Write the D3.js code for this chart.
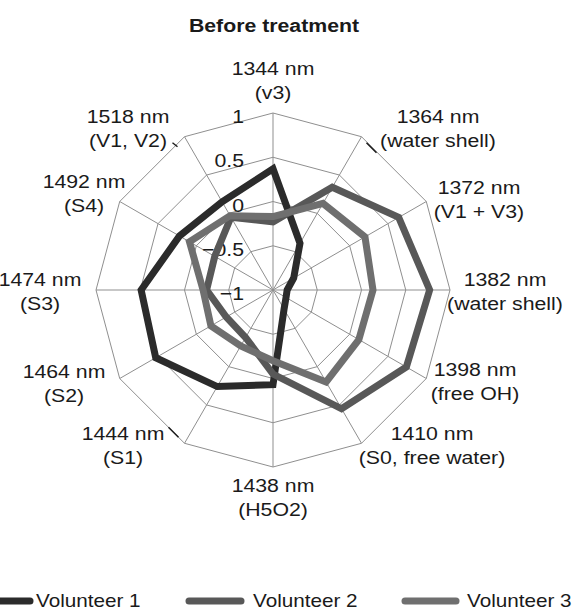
<!DOCTYPE html>
<html>
<head>
<meta charset="utf-8">
<script src="https://cdn.jsdelivr.net/npm/d3@7"></script>
<style>
  html, body { margin: 0; padding: 0; background: #ffffff; }
  svg { display: block; }
  text { font-family: "Liberation Sans", Arial, Helvetica, sans-serif; fill: #1a1a1a; }
</style>
</head>
<body>
<svg id="chart" width="572" height="613"></svg>
<script>
// Spoke labels (wavelength + band assignment), clockwise from the top
const axisNames = ["1344 nm", "1364 nm", "1372 nm", "1382 nm", "1398 nm", "1410 nm",
                   "1438 nm", "1444 nm", "1464 nm", "1474 nm", "1492 nm", "1518 nm"];
const axisNotes = ["(v3)", "(water shell)", "(V1 + V3)", "(water shell)", "(free OH)", "(S0, free water)",
                   "(H5O2)", "(S1)", "(S2)", "(S3)", "(S4)", "(V1, V2)"];

// Ring values and their tick labels
const ringValues = [-1, -0.5, 0, 0.5, 1];
const ringLabels = ["\u22121", "\u22120.5", "0", "0.5", "1"];

// Series
const seriesNames = ["Volunteer 1", "Volunteer 2", "Volunteer 3"];
const volunteer1 = [0.37, -0.39, -0.73, -0.84, -0.83, -0.75, 0.07, 0.26, 0.53, 0.49, 0.22, 0.15];
const volunteer2 = [-0.23, 0.34, 0.64, 0.77, 0.74, 0.55, -0.05, -0.38, -0.39, -0.25, -0.24, -0.05];
const volunteer3 = [-0.17, 0.13, 0.20, 0.13, 0.12, 0.20, -0.20, -0.27, -0.19, -0.21, 0.09, -0.03];

const seriesColors = ["#2b2b2b", "#585858", "#6f6f6f"];
const seriesData = [volunteer1, volunteer2, volunteer3];

const svg = d3.select("#chart");
const cx = 273, cy = 290, R = 177;
const FS = 18.5, SX = 1.15;

const r = d3.scaleLinear().domain([-1, 1]).range([0, R]);
const angle = d3.scaleLinear().domain([0, axisNames.length]).range([0, 2 * Math.PI]);

const plot = svg.append("g").attr("transform", `translate(${cx},${cy})`);

function put(g, x, y, str, anchor, size, weight) {
  return g.append("text")
    .attr("transform", `translate(${x},${y}) scale(${SX},1)`)
    .attr("text-anchor", anchor)
    .style("font-size", size + "px")
    .style("font-weight", weight || "normal")
    .text(str);
}

// Grid rings (polygons)
const ringLine = d3.lineRadial()
  .angle((d, i) => angle(i))
  .radius(d => r(d))
  .curve(d3.curveLinearClosed);

ringValues.filter(v => v > -1).forEach(v => {
  plot.append("path")
    .attr("d", ringLine(axisNames.map(() => v)))
    .attr("fill", "none")
    .attr("stroke", "#8f8f8f")
    .attr("stroke-width", 1);
});

// Spokes
axisNames.forEach((name, i) => {
  const a = angle(i);
  plot.append("line")
    .attr("x1", 0).attr("y1", 0)
    .attr("x2", r(1) * Math.sin(a)).attr("y2", -r(1) * Math.cos(a))
    .attr("stroke", "#8f8f8f")
    .attr("stroke-width", 1);
});

// Ring tick labels, right-aligned left of the vertical spoke
ringValues.forEach((v, i) => {
  put(plot, -29, -r(v) + 10, ringLabels[i], "end", FS);
});

// Series polygons
const seriesLine = d3.lineRadial()
  .angle((d, i) => angle(i))
  .radius(d => r(d))
  .curve(d3.curveLinearClosed);

seriesData.forEach((vals, s) => {
  plot.append("path")
    .attr("d", seriesLine(vals))
    .attr("fill", "none")
    .attr("stroke", seriesColors[s])
    .attr("stroke-width", 7)
    .attr("stroke-linejoin", "miter");
});

// Spoke labels: centre x and first baseline for each label block
const labelPos = [
  [273, 75], [438, 123], [479, 194], [505, 286], [475, 376], [432, 440],
  [273, 492], [123, 440], [64, 378], [40, 286], [84, 188], [128, 123]
];
const lineGap = 23.5;
axisNames.forEach((name, i) => {
  const [x, y] = labelPos[i];
  put(svg, x, y, name, "middle", FS);
  put(svg, x, y + lineGap, axisNotes[i], "middle", FS);
});

// Short leader ticks next to a few spoke ends
[[1, 5, 6, 15, 16], [11, -12, 6, -7, 10], [7, -16, -16, -6, -6]].forEach(([i, ax, ay, bx, by]) => {
  const a = angle(i);
  const ex = cx + r(1) * Math.sin(a), ey = cy - r(1) * Math.cos(a);
  svg.append("line")
    .attr("x1", ex + ax).attr("y1", ey + ay)
    .attr("x2", ex + bx).attr("y2", ey + by)
    .attr("stroke", "#1a1a1a").attr("stroke-width", 1.5);
});

// Title
put(svg, 274, 32, "Before treatment", "middle", FS, "bold");

// Legend
const legendItems = [
  { x1: -10, x2: 30, tx: 36 },
  { x1: 189, x2: 241, tx: 253 },
  { x1: 405, x2: 456, tx: 467 }
];
legendItems.forEach((it, s) => {
  svg.append("line")
    .attr("x1", it.x1).attr("x2", it.x2)
    .attr("y1", 601).attr("y2", 601)
    .attr("stroke", seriesColors[s])
    .attr("stroke-width", 7)
    .attr("stroke-linecap", "round");
  put(svg, it.tx, 607, seriesNames[s], "start", 18);
});
</script>
</body>
</html>
